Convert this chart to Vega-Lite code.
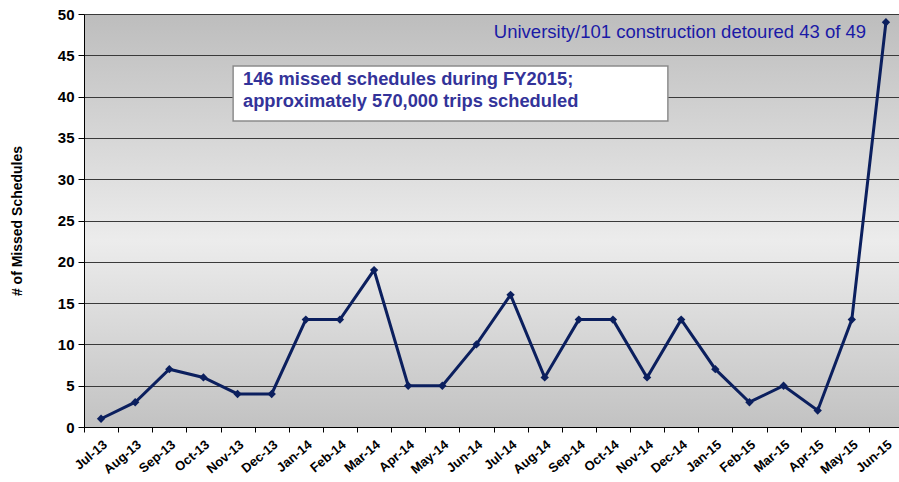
{
  "$schema": "https://vega.github.io/schema/vega-lite/v6.json",
  "width": 819,
  "height": 413,
  "autosize": "none",
  "padding": {"left": 84, "top": 14, "right": 0, "bottom": 55},
  "background": "white",
  "config": {
    "view": {"stroke": null, "fill": {"gradient": "linear", "x1": 0, "y1": 0, "x2": 0, "y2": 1, "stops": [{"offset": 0, "color": "#bdbdbd"}, {"offset": 0.55, "color": "#ececec"}, {"offset": 1, "color": "#c2c2c2"}]}},
    "font": "Liberation Sans"
  },
  "data": {"values": [
    {"month": "Jul-13", "missed": 1},
    {"month": "Aug-13", "missed": 3},
    {"month": "Sep-13", "missed": 7},
    {"month": "Oct-13", "missed": 6},
    {"month": "Nov-13", "missed": 4},
    {"month": "Dec-13", "missed": 4},
    {"month": "Jan-14", "missed": 13},
    {"month": "Feb-14", "missed": 13},
    {"month": "Mar-14", "missed": 19},
    {"month": "Apr-14", "missed": 5},
    {"month": "May-14", "missed": 5},
    {"month": "Jun-14", "missed": 10},
    {"month": "Jul-14", "missed": 16},
    {"month": "Aug-14", "missed": 6},
    {"month": "Sep-14", "missed": 13},
    {"month": "Oct-14", "missed": 13},
    {"month": "Nov-14", "missed": 6},
    {"month": "Dec-14", "missed": 13},
    {"month": "Jan-15", "missed": 7},
    {"month": "Feb-15", "missed": 3},
    {"month": "Mar-15", "missed": 5},
    {"month": "Apr-15", "missed": 2},
    {"month": "May-15", "missed": 13},
    {"month": "Jun-15", "missed": 49}
  ]},
  "layer": [
    {
      "mark": {"type": "line", "color": "#0b1f5e", "strokeWidth": 3, "point": {"shape": "diamond", "size": 70, "filled": true, "color": "#0b1f5e"}},
      "encoding": {
        "x": {"field": "month", "type": "ordinal", "sort": null, "title": null,
          "scale": {"paddingInner": 0, "paddingOuter": 0},
          "axis": {"labelAngle": -40, "labelFont": "Liberation Sans", "labelFontWeight": "bold", "labelFontSize": 13, "labelColor": "black", "domainColor": "black", "tickColor": "black", "tickBand": "extent", "tickSize": 5, "labelPadding": 6}},
        "y": {"field": "missed", "type": "quantitative", "title": "# of Missed Schedules",
          "scale": {"domain": [0, 50], "nice": false},
          "axis": {"values": [0, 5, 10, 15, 20, 25, 30, 35, 40, 45, 50], "labelFontWeight": "bold", "labelFontSize": 15, "labelColor": "black", "domainColor": "black", "tickColor": "black", "tickSize": 6, "gridColor": "#3a3a3a", "gridWidth": 1, "gridOpacity": 1, "titleFontSize": 14, "titleFontWeight": "bold", "titleColor": "black", "titlePadding": 33, "labelPadding": 4}}
      }
    },
    {
      "data": {"values": [{"label": "box"}]},
      "mark": {"type": "rect", "fill": "white", "stroke": "#8c8c8c", "strokeWidth": 1.5},
      "encoding": {
        "x": {"datum": "Nov-13", "type": "ordinal", "bandPosition": 0.37},
        "x2": {"datum": "Dec-14", "bandPosition": 0.11},
        "y": {"datum": 43.7, "type": "quantitative"},
        "y2": {"datum": 37.05}
      }
    },
    {
      "data": {"values": [
        {"line": "146 missed schedules during FY2015;", "y": 42.05},
        {"line": "approximately 570,000 trips scheduled", "y": 39.3}
      ]},
      "mark": {"type": "text", "align": "left", "baseline": "middle", "fontSize": 18.3, "fontWeight": "bold", "color": "#333399", "font": "Liberation Sans"},
      "encoding": {
        "x": {"datum": "Nov-13", "type": "ordinal", "bandPosition": 0.66},
        "y": {"field": "y", "type": "quantitative"},
        "text": {"field": "line"}
      }
    },
    {
      "data": {"values": [{"note": "University/101 construction detoured 43 of 49", "y": 47.8}]},
      "mark": {"type": "text", "align": "right", "baseline": "middle", "fontSize": 18.5, "color": "#1a1aa6", "font": "Liberation Sans"},
      "encoding": {
        "x": {"datum": "May-15", "type": "ordinal", "bandPosition": 0.92},
        "y": {"field": "y", "type": "quantitative"},
        "text": {"field": "note"}
      }
    }
  ]
}
